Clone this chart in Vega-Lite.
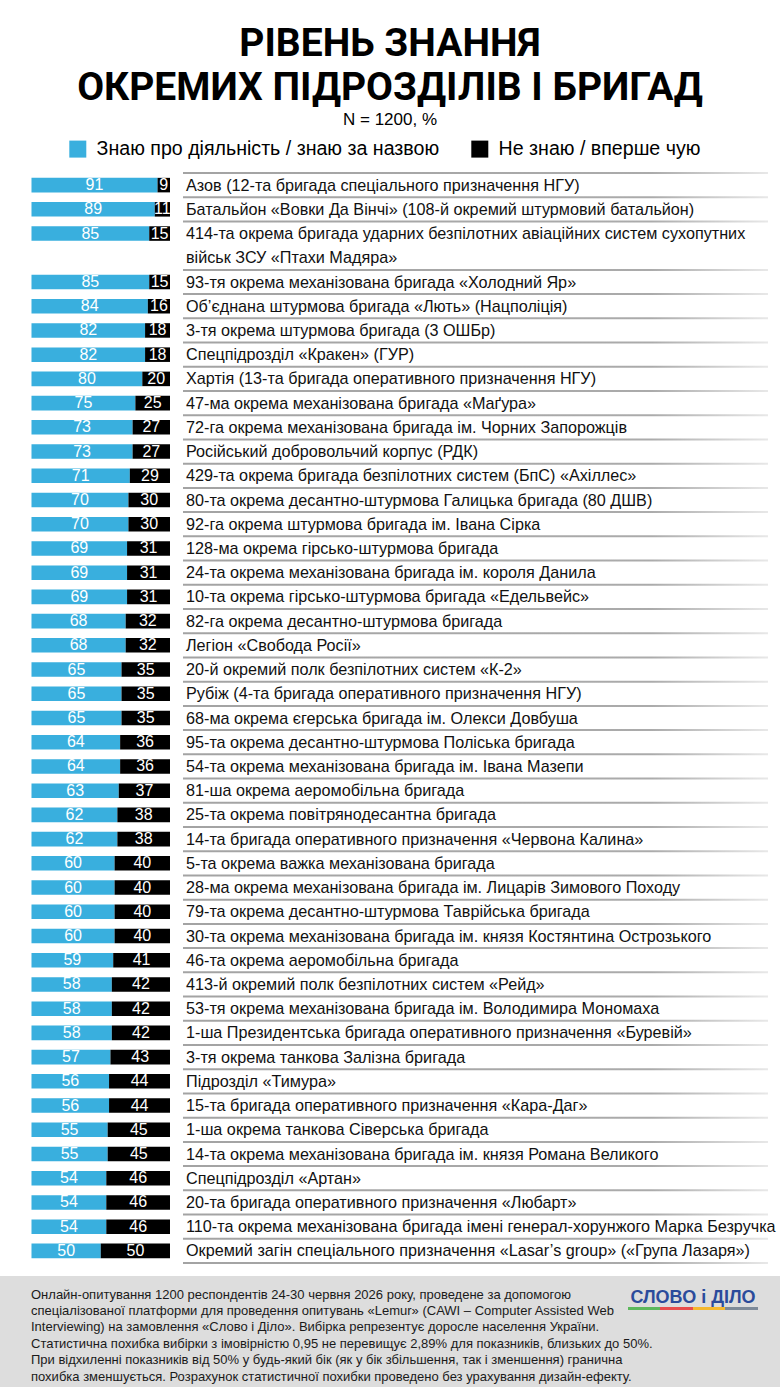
{
  "$schema": "https://vega.github.io/schema/vega-lite/v6.json",
  "autosize": {"type": "pad"},
  "padding": {"left": 0, "right": 0, "top": 25, "bottom": 0},
  "background": "white",
  "spacing": 12,
  "config": {"view": {"stroke": null}, "font": "Liberation Sans"},
  "title": {
    "text": ["РІВЕНЬ ЗНАННЯ", "ОКРЕМИХ ПІДРОЗДІЛІВ І БРИГАД"],
    "subtitle": "N = 1200, %",
    "anchor": "middle",
    "font": "Roboto",
    "fontSize": 39,
    "fontWeight": "bold",
    "lineHeight": 44,
    "color": "#000000",
    "subtitleFont": "Liberation Sans",
    "subtitleFontSize": 17,
    "subtitleColor": "#000000",
    "subtitlePadding": 4,
    "offset": 11
  },
  "vconcat": [
    {
      "width": 780,
      "height": 1090,
      "data": {"values": [
        {"rank": 1, "label": "Азов (12-та бригада спеціального призначення НГУ)", "know": 91, "unknown": 9},
        {"rank": 2, "label": "Батальйон «Вовки Да Вінчі» (108-й окремий штурмовий батальйон)", "know": 89, "unknown": 11},
        {"rank": 3, "label": "414-та окрема бригада ударних безпілотних авіаційних систем сухопутних\nвійськ ЗСУ «Птахи Мадяра»", "know": 85, "unknown": 15},
        {"rank": 5, "label": "93-тя окрема механізована бригада «Холодний Яр»", "know": 85, "unknown": 15},
        {"rank": 6, "label": "Об’єднана штурмова бригада «Лють» (Нацполіція)", "know": 84, "unknown": 16},
        {"rank": 7, "label": "3-тя окрема штурмова бригада (3 ОШБр)", "know": 82, "unknown": 18},
        {"rank": 8, "label": "Спецпідрозділ «Кракен» (ГУР)", "know": 82, "unknown": 18},
        {"rank": 9, "label": "Хартія (13-та бригада оперативного призначення НГУ)", "know": 80, "unknown": 20},
        {"rank": 10, "label": "47-ма окрема механізована бригада «Маґура»", "know": 75, "unknown": 25},
        {"rank": 11, "label": "72-га окрема механізована бригада ім. Чорних Запорожців", "know": 73, "unknown": 27},
        {"rank": 12, "label": "Російський добровольчий корпус (РДК)", "know": 73, "unknown": 27},
        {"rank": 13, "label": "429-та окрема бригада безпілотних систем (БпС) «Ахіллес»", "know": 71, "unknown": 29},
        {"rank": 14, "label": "80-та окрема десантно-штурмова Галицька бригада (80 ДШВ)", "know": 70, "unknown": 30},
        {"rank": 15, "label": "92-га окрема штурмова бригада ім. Івана Сірка", "know": 70, "unknown": 30},
        {"rank": 16, "label": "128-ма окрема гірсько-штурмова бригада", "know": 69, "unknown": 31},
        {"rank": 17, "label": "24-та окрема механізована бригада ім. короля Данила", "know": 69, "unknown": 31},
        {"rank": 18, "label": "10-та окрема гірсько-штурмова бригада «Едельвейс»", "know": 69, "unknown": 31},
        {"rank": 19, "label": "82-га окрема десантно-штурмова бригада", "know": 68, "unknown": 32},
        {"rank": 20, "label": "Легіон «Свобода Росії»", "know": 68, "unknown": 32},
        {"rank": 21, "label": "20-й окремий полк безпілотних систем «К-2»", "know": 65, "unknown": 35},
        {"rank": 22, "label": "Рубіж (4-та бригада оперативного призначення НГУ)", "know": 65, "unknown": 35},
        {"rank": 23, "label": "68-ма окрема єгерська бригада ім. Олекси Довбуша", "know": 65, "unknown": 35},
        {"rank": 24, "label": "95-та окрема десантно-штурмова Поліська бригада", "know": 64, "unknown": 36},
        {"rank": 25, "label": "54-та окрема механізована бригада ім. Івана Мазепи", "know": 64, "unknown": 36},
        {"rank": 26, "label": "81-ша окрема аеромобільна бригада", "know": 63, "unknown": 37},
        {"rank": 27, "label": "25-та окрема повітрянодесантна бригада", "know": 62, "unknown": 38},
        {"rank": 28, "label": "14-та бригада оперативного призначення «Червона Калина»", "know": 62, "unknown": 38},
        {"rank": 29, "label": "5-та окрема важка механізована бригада", "know": 60, "unknown": 40},
        {"rank": 30, "label": "28-ма окрема механізована бригада ім. Лицарів Зимового Походу", "know": 60, "unknown": 40},
        {"rank": 31, "label": "79-та окрема десантно-штурмова Таврійська бригада", "know": 60, "unknown": 40},
        {"rank": 32, "label": "30-та окрема механізована бригада ім. князя Костянтина Острозького", "know": 60, "unknown": 40},
        {"rank": 33, "label": "46-та окрема аеромобільна бригада", "know": 59, "unknown": 41},
        {"rank": 34, "label": "413-й окремий полк безпілотних систем «Рейд»", "know": 58, "unknown": 42},
        {"rank": 35, "label": "53-тя окрема механізована бригада ім. Володимира Мономаха", "know": 58, "unknown": 42},
        {"rank": 36, "label": "1-ша Президентська бригада оперативного призначення «Буревій»", "know": 58, "unknown": 42},
        {"rank": 37, "label": "3-тя окрема танкова Залізна бригада", "know": 57, "unknown": 43},
        {"rank": 38, "label": "Підрозділ «Тимура»", "know": 56, "unknown": 44},
        {"rank": 39, "label": "15-та бригада оперативного призначення «Кара-Даг»", "know": 56, "unknown": 44},
        {"rank": 40, "label": "1-ша окрема танкова Сіверська бригада", "know": 55, "unknown": 45},
        {"rank": 41, "label": "14-та окрема механізована бригада ім. князя Романа Великого", "know": 55, "unknown": 45},
        {"rank": 42, "label": "Спецпідрозділ «Артан»", "know": 54, "unknown": 46},
        {"rank": 43, "label": "20-та бригада оперативного призначення «Любарт»", "know": 54, "unknown": 46},
        {"rank": 44, "label": "110-та окрема механізована бригада імені генерал-хорунжого Марка Безручка", "know": 54, "unknown": 46},
        {"rank": 45, "label": "Окремий загін спеціального призначення «Lasar’s group» («Група Лазаря»)", "know": 50, "unknown": 50}
      ]},
      "layer": [
        {
          "transform": [{"fold": ["know", "unknown"], "as": ["cat", "value"]}],
          "mark": {"type": "bar"},
          "encoding": {
            "y": {"field": "rank", "type": "ordinal", "axis": null,
                  "scale": {"domain": [1,2,3,4,5,6,7,8,9,10,11,12,13,14,15,16,17,18,19,20,21,22,23,24,25,26,27,28,29,30,31,32,33,34,35,36,37,38,39,40,41,42,43,44,45], "paddingInner": 0.4, "paddingOuter": 0.2}},
            "x": {"field": "value", "type": "quantitative", "stack": "zero", "axis": null,
                  "scale": {"domain": [-22.74, 540.43], "nice": false, "zero": false}},
            "order": {"field": "cat", "sort": "ascending"},
            "color": {"field": "cat", "type": "nominal",
                      "scale": {"domain": ["know", "unknown"], "range": ["#39afde", "#000000"]},
                      "legend": {
                        "orient": "none", "legendX": 68, "legendY": -34,
                        "direction": "horizontal", "title": null,
                        "symbolType": "square", "symbolSize": 289, "symbolStrokeWidth": 0, "symbolOpacity": 1,
                        "labelFontSize": 19.6, "labelFont": "Liberation Sans", "labelColor": "#000000",
                        "labelOffset": 9, "columnPadding": 30, "labelLimit": 0,
                        "labelExpr": "datum.label == 'know' ? 'Знаю про діяльність / знаю за назвою' : 'Не знаю / вперше чую'"
                      }}
          }
        },
        {
          "transform": [{"fold": ["know", "unknown"], "as": ["cat", "value"]}],
          "mark": {"type": "text", "color": "#ffffff", "fontSize": 16, "baseline": "middle", "align": "center", "font": "Liberation Sans"},
          "encoding": {
            "y": {"field": "rank", "type": "ordinal"},
            "x": {"field": "value", "type": "quantitative", "stack": "zero", "bandPosition": 0.5},
            "detail": {"field": "cat"},
            "order": {"field": "cat", "sort": "ascending"},
            "text": {"field": "value", "type": "quantitative"}
          }
        },
        {
          "mark": {"type": "bar", "height": 2, "yOffset": -12.11,
                   "fill": {"gradient": "linear", "x1": 0, "x2": 1, "y1": 0, "y2": 0,
                            "stops": [{"offset": 0, "color": "#a3a3a3"}, {"offset": 0.8, "color": "#ababab"}, {"offset": 1, "color": "#e8e8e8"}]}},
          "encoding": {
            "y": {"field": "rank", "type": "ordinal"},
            "x": {"datum": 109.39},
            "x2": {"datum": 531.77}
          }
        },
        {
          "transform": [{"filter": "datum.rank == 45"}],
          "mark": {"type": "bar", "height": 2, "yOffset": 12.11,
                   "fill": {"gradient": "linear", "x1": 0, "x2": 1, "y1": 0, "y2": 0,
                            "stops": [{"offset": 0, "color": "#a3a3a3"}, {"offset": 0.8, "color": "#ababab"}, {"offset": 1, "color": "#e8e8e8"}]}},
          "encoding": {
            "y": {"field": "rank", "type": "ordinal"},
            "x": {"datum": 109.39},
            "x2": {"datum": 531.77}
          }
        },
        {
          "mark": {"type": "text", "align": "left", "baseline": "alphabetic", "dy": 5.6, "fontSize": 16.2, "font": "Liberation Sans", "color": "#111111", "lineBreak": "\n", "lineHeight": 24.22},
          "encoding": {
            "y": {"field": "rank", "type": "ordinal"},
            "x": {"datum": 111.55},
            "text": {"field": "label"}
          }
        }
      ]
    },
    {
      "width": 780,
      "height": 112,
      "view": {"fill": "#dddddd", "stroke": null},
      "data": {"values": [
        {"line": 1, "text": "Онлайн-опитування 1200 респондентів 24-30 червня 2026 року, проведене за допомогою"},
        {"line": 2, "text": "спеціалізованої платформи для проведення опитувань «Lemur» (CAWI – Computer Assisted Web"},
        {"line": 3, "text": "Interviewing) на замовлення «Слово і Діло». Вибірка репрезентує доросле населення України."},
        {"line": 4, "text": "Статистична похибка вибірки з імовірністю 0,95 не перевищує 2,89% для показників, близьких до 50%."},
        {"line": 5, "text": "При відхиленні показників від 50% у будь-який бік (як у бік збільшення, так і зменшення) гранична"},
        {"line": 6, "text": "похибка зменшується. Розрахунок статистичної похибки проведено без урахування дизайн-ефекту."}
      ]},
      "layer": [
        {
          "mark": {"type": "text", "align": "left", "baseline": "middle", "font": "Liberation Sans", "fontSize": 13, "color": "#1a1a1a"},
          "encoding": {
            "y": {"field": "line", "type": "ordinal", "axis": null, "scale": {"type": "point", "range": [18.5, 100.5], "padding": 0}},
            "x": {"datum": 31, "type": "quantitative", "axis": null, "scale": {"domain": [0, 780], "nice": false, "zero": false}},
            "text": {"field": "text"}
          }
        },
        {
          "data": {"values": [{"logo": "СЛОВО і ДІЛО"}]},
          "mark": {"type": "text", "align": "center", "baseline": "middle", "font": "Liberation Sans", "fontWeight": "bold", "fontSize": 18, "color": "#2b4b9b", "yOffset": 3},
          "encoding": {
            "y": {"datum": 1, "type": "ordinal"},
            "x": {"datum": 693, "type": "quantitative"},
            "text": {"field": "logo"}
          }
        },
        {
          "data": {"values": [{"logo": "СЛОВО і ДІЛО"}]},
          "mark": {"type": "bar", "height": 3, "yOffset": 14,
                   "fill": {"gradient": "linear", "x1": 0, "x2": 1, "y1": 0, "y2": 0,
                            "stops": [{"offset": 0, "color": "#5cb85c"}, {"offset": 0.25, "color": "#5cb85c"}, {"offset": 0.25, "color": "#e84c4c"}, {"offset": 0.5, "color": "#e84c4c"}, {"offset": 0.5, "color": "#f5b82e"}, {"offset": 0.75, "color": "#f5b82e"}, {"offset": 0.75, "color": "#7d8a99"}, {"offset": 1, "color": "#7d8a99"}]}},
          "encoding": {
            "y": {"datum": 1, "type": "ordinal"},
            "x": {"datum": 628, "type": "quantitative"},
            "x2": {"datum": 758}
          }
        }
      ]
    }
  ]
}
